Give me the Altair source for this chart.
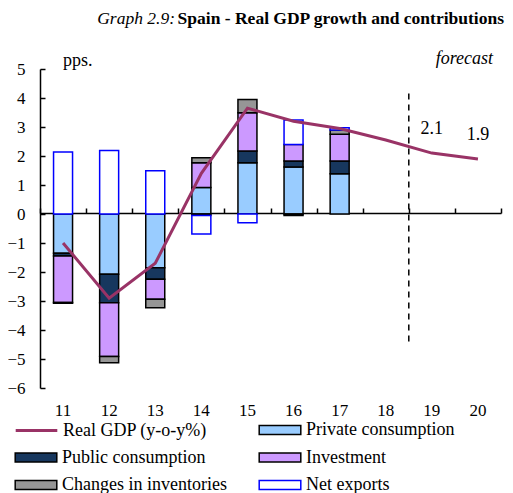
import altair as alt
import pandas as pd

years = ["11", "12", "13", "14", "15", "16", "17", "18", "19", "20"]
bar_years = years[:7]
private = [-1.35, -2.08, -1.85, 0.91, 1.77, 1.62, 1.39]
public = [-0.10, -0.98, -0.40, -0.05, 0.40, 0.21, 0.44]
investment = [-1.60, -1.85, -0.69, 0.86, 1.32, 0.57, 0.92]
inventories = [-0.03, -0.22, -0.29, 0.17, 0.46, -0.05, 0.15]
net_exports = [2.14, 2.19, 1.49, -0.64, -0.30, 0.84, 0.07]
gdp = [-1.0, -2.9, -1.7, 1.4, 3.65, 3.2, 2.95, 2.55, 2.1, 1.9]
labelled_years = ["19", "20"]
forecast_split = ["18"]
forecast_span = [-4.4, 4.3]
y_ticks = list(range(-6, 6))

gdp_name = "Real GDP (y-o-y%)"
series_names = ["Private consumption", "Public consumption",
                "Investment", "Changes in inventories", "Net exports"]
fills = ["#99CCFF", "#17375E", "#CC99FF", "#969696", "#FFFFFF"]
strokes = ["#000000", "#000000", "#000000", "#000000", "#0000FF"]
gdp_color = "#993366"

FONT = "Liberation Serif"
W, H = 461, 319
RECT = "M-2.6,-0.55H2.6V0.55H-2.6Z"

rows = []
for i, y in enumerate(bar_years):
    for k, (name, vals) in enumerate(zip(series_names, [private, public, investment, inventories, net_exports])):
        rows.append({"year": y, "series": name, "value": vals[i], "order": k})
bars_df = pd.DataFrame(rows)
gdp_df = pd.DataFrame({"year": years, "gdp": gdp, "series": [gdp_name] * len(years)})
lab_df = gdp_df[gdp_df["year"].isin(labelled_years)]
split_df = pd.DataFrame({"year": forecast_split, "lo": [forecast_span[0]], "hi": [forecast_span[1]]})

xscale = alt.Scale(domain=years, paddingInner=0, paddingOuter=0)
yscale = alt.Scale(domain=[-6, 5], nice=False)
fill_scale = alt.Scale(domain=series_names, range=fills)
stroke_scale = alt.Scale(domain=series_names, range=strokes)


def make_legend(vals, lx, ly, sym=RECT, sw=1.5):
    return alt.Legend(
        orient="none", legendX=lx, legendY=ly, direction="vertical", title=None,
        values=vals, symbolType=sym, symbolSize=256, symbolStrokeWidth=sw,
        symbolOffset=13, labelOffset=17, labelFont=FONT, labelFontSize=18,
        labelColor="black", rowPadding=9.5, padding=0, labelLimit=400,
    )


leg_b = make_legend(["Private consumption", "Investment", "Net exports"], 218, 352)
leg_a = make_legend(["Public consumption", "Changes in inventories"], -26, 379.5)
leg_g = make_legend([gdp_name], -26, 352, sym="M-2.6,0H2.6", sw=3)

bars = alt.Chart(bars_df).mark_bar(size=19, strokeWidth=1.5).encode(
    x=alt.X("year:N", scale=xscale, sort=years, title=None,
            axis=alt.Axis(orient="bottom", domain=False, ticks=False, labelAngle=0,
                          labelFont=FONT, labelFontSize=17, labelColor="black",
                          labelPadding=14)),
    y=alt.Y("value:Q", stack="zero", scale=yscale, title=None,
            axis=alt.Axis(orient="left", values=y_ticks, domain=True, domainColor="black",
                          domainWidth=1.5, ticks=False, grid=False, labelFont=FONT,
                          labelFontSize=17, labelColor="black", labelPadding=15)),
    fill=alt.Fill("series:N", scale=fill_scale, legend=leg_b),
    stroke=alt.Stroke("series:N", scale=stroke_scale, legend=leg_b),
    order=alt.Order("order:Q"),
)

legend_only = alt.Chart(bars_df).transform_filter("false").mark_bar(size=19, strokeWidth=1.5).encode(
    x=alt.X("year:N", scale=xscale, sort=years, axis=None),
    y=alt.Y("value:Q", scale=yscale, axis=None),
    fill=alt.Fill("series:N", scale=fill_scale, legend=leg_a),
    stroke=alt.Stroke("series:N", scale=stroke_scale, legend=leg_a),
)

line = alt.Chart(gdp_df).mark_line(strokeWidth=3).encode(
    x=alt.X("year:N", scale=xscale, sort=years, title=None,
            axis=alt.Axis(orient="top", offset=-144, labels=False, tickBand="extent",
                          ticks=True, tickSize=5, tickColor="black", tickWidth=1.5,
                          domain=True, domainColor="black", domainWidth=1.5)),
    y=alt.Y("gdp:Q", scale=yscale, title=None,
            axis=alt.Axis(orient="right", offset=-W, values=y_ticks, labels=False,
                          ticks=True, tickSize=5, tickColor="black", tickWidth=1.5,
                          domain=False, grid=False)),
    stroke=alt.Stroke("series:N", scale=alt.Scale(domain=[gdp_name], range=[gdp_color]),
                      legend=leg_g),
)

split = alt.Chart(split_df).mark_rule(color="black", strokeWidth=1.5, strokeDash=[6, 5]).encode(
    x=alt.X("year:N", bandPosition=1, scale=xscale, sort=years, axis=None),
    y=alt.Y("lo:Q", scale=yscale, axis=None),
    y2="hi:Q",
)

labels = alt.Chart(lab_df).mark_text(font=FONT, fontSize=18, dy=-24, color="black").encode(
    x=alt.X("year:N", scale=xscale, sort=years, axis=None),
    y=alt.Y("gdp:Q", scale=yscale, axis=None),
    text=alt.Text("gdp:Q", format=".1f"),
)

one = alt.Data(values=[{}])
pps = alt.Chart(one).mark_text(text="pps.", font=FONT, fontSize=18, align="left",
                               baseline="middle", color="black").encode(
    x=alt.value(23), y=alt.value(-8))
forecast = alt.Chart(one).mark_text(text="forecast", font=FONT, fontSize=18, fontStyle="italic",
                                    align="right", baseline="middle", color="black").encode(
    x=alt.value(453), y=alt.value(-10))
title_b = alt.Chart(one).mark_text(text="Spain - Real GDP growth and contributions", font=FONT,
                                   fontSize=17.5, fontWeight="bold", align="right",
                                   baseline="middle", color="black").encode(
    x=alt.value(464), y=alt.value(-50))
title_i = alt.Chart(one).mark_text(text="Graph 2.9:", font=FONT, fontSize=17.5, fontStyle="italic",
                                   align="right", baseline="middle", color="black").encode(
    x=alt.value(135), y=alt.value(-50))

chart = alt.layer(bars, legend_only, line, split, labels, pps, forecast, title_b, title_i).resolve_axis(
    x="independent", y="independent"
).resolve_scale(fill="independent", stroke="independent").resolve_legend(
    fill="independent", stroke="independent"
).properties(
    width=W, height=H,
    padding={"left": 32, "top": 61, "right": 4, "bottom": 105},
    autosize=alt.AutoSizeParams(type="none"),
).configure_view(stroke=None).configure_axis(grid=False)

chart.save("out.html", embed_options={"renderer": "svg", "actions": False})
